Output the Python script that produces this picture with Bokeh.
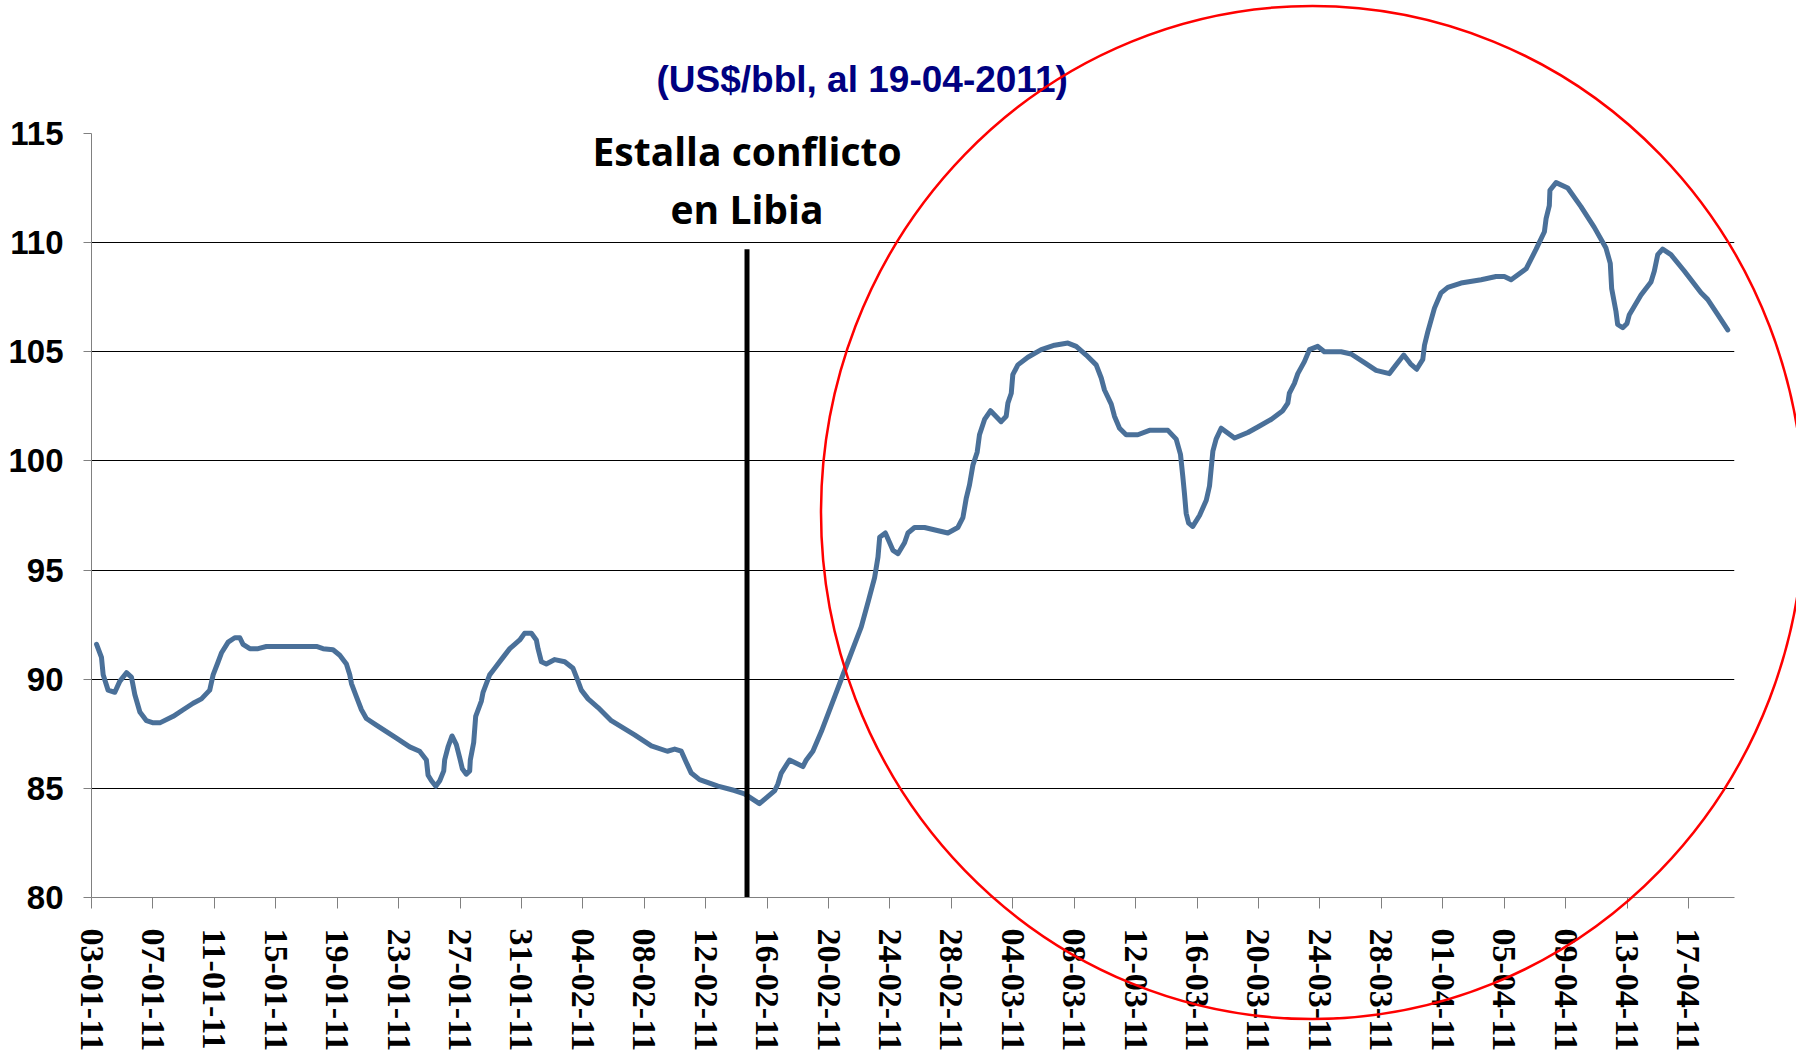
import math
from datetime import datetime, timedelta
from bokeh.plotting import figure
from bokeh.models import FixedTicker, DatetimeTickFormatter, Range1d, Label
from bokeh.embed import file_html
from bokeh.resources import INLINE

# ---------------- data ----------------
start_date = datetime(2011, 1, 3)
end_date = datetime(2011, 4, 20)

day_offset = [
    0.33, 0.65, 0.76, 1.08, 1.52, 1.84, 2.28, 2.60, 2.82, 3.15, 3.58, 4.02, 4.45, 5.32, 5.97,
    6.62, 7.16, 7.70, 7.92, 8.25, 8.46, 8.90, 9.33, 9.66, 9.87, 10.31, 10.85, 11.39, 12.70,
    14.65, 15.08, 15.73, 16.17, 16.60, 16.82, 16.93, 17.25, 17.58, 17.90, 18.55, 19.86, 20.72,
    21.37, 21.81, 21.92, 22.14, 22.42, 22.68, 22.94, 23.00, 23.22, 23.48, 23.76, 23.98, 24.15,
    24.41, 24.63, 24.67, 24.89, 25.02, 25.39, 25.50, 25.93, 26.15, 26.80, 27.24, 27.56, 27.89,
    28.20, 28.65, 28.97, 29.08, 29.30, 29.62, 30.17, 30.82, 31.36, 31.69, 31.90, 32.34, 32.99,
    33.85, 35.37, 36.46, 37.50, 37.98, 38.41, 38.73, 39.06, 39.60, 40.80, 41.88, 42.53, 43.50,
    44.50, 44.70, 44.92, 45.46, 46.33, 46.55, 46.98, 47.53, 48.40, 49.26, 50.13, 50.60, 51.00,
    51.22, 51.33, 51.70, 51.98, 52.20, 52.52, 52.95, 53.17, 53.60, 54.25, 55.77, 56.42, 56.75,
    56.97, 57.18, 57.40, 57.68, 57.83, 58.16, 58.55, 59.24, 59.57, 59.68, 59.90, 60.00, 60.33,
    60.98, 61.85, 62.72, 63.59, 64.13, 64.78, 65.43, 65.76, 65.97, 66.41, 66.62, 66.95, 67.38,
    68.14, 68.90, 70.10, 70.64, 70.92, 71.07, 71.18, 71.29, 71.45, 71.72, 72.16, 72.60, 72.81,
    73.03, 73.24, 73.57, 74.44, 75.31, 76.07, 76.82, 77.58, 77.91, 78.01, 78.34, 78.56, 78.99,
    79.32, 79.86, 80.29, 81.38, 82.03, 82.90, 83.66, 84.53, 84.85, 85.46, 85.90, 86.30, 86.70,
    86.81, 87.02, 87.46, 87.89, 88.33, 89.19, 90.50, 91.47, 92.01, 92.45, 93.43, 94.08, 94.62,
    94.73, 94.94, 94.98, 95.38, 96.14, 97.00, 97.87, 98.63, 98.91, 99.00, 99.28, 99.39, 99.72,
    100.00, 100.15, 100.91, 101.56, 101.78, 102.00, 102.32, 102.86, 103.73, 104.82, 105.25,
    105.91, 106.56,
]

price = [
    91.6, 91.0, 90.2, 89.5, 89.4, 89.9, 90.3, 90.1, 89.3, 88.5, 88.1, 88.0, 88.0, 88.3, 88.6,
    88.9, 89.1, 89.5, 90.2, 90.8, 91.2, 91.7, 91.9, 91.9, 91.6, 91.4, 91.4, 91.5, 91.5,
    91.5, 91.4, 91.35, 91.1, 90.7, 90.2, 89.8, 89.2, 88.6, 88.2, 87.9, 87.3, 86.9,
    86.7, 86.3, 85.6, 85.35, 85.1, 85.35, 85.8, 86.3, 86.9, 87.4, 87.0, 86.4, 85.9,
    85.65, 85.8, 86.3, 87.1, 88.3, 89.0, 89.4, 90.2, 90.4, 91.0, 91.4, 91.6, 91.8,
    92.1, 92.1, 91.8, 91.4, 90.8, 90.7, 90.9, 90.8, 90.5, 89.9, 89.5, 89.1, 88.7,
    88.1, 87.45, 86.95, 86.7, 86.8, 86.7, 86.2, 85.7, 85.4, 85.1, 84.9, 84.75, 84.3,
    84.9, 85.2, 85.7, 86.3, 86.0, 86.3, 86.7, 87.6, 89.2, 90.8, 92.4, 93.6, 94.65,
    95.6, 96.5, 96.7, 96.25, 95.9, 95.75, 96.25, 96.7, 96.95, 96.95, 96.7, 96.95, 97.4,
    98.3, 98.9, 99.8, 100.4, 101.2, 101.9, 102.3, 101.8, 102.05, 102.65, 103.1, 103.95, 104.4,
    104.75, 105.1, 105.3, 105.4, 105.25, 104.85, 104.4, 103.8, 103.25, 102.6, 102.05, 101.5, 101.2,
    101.2, 101.4, 101.4, 101.0, 100.3, 99.3, 98.5, 97.6, 97.15, 97.0, 97.5, 98.2, 98.85,
    100.45, 101.0, 101.5, 101.05, 101.3, 101.6, 101.9, 102.3, 102.65, 103.1, 103.55, 104.0, 104.55,
    105.1, 105.25, 105.0, 105.0, 104.9, 104.5, 104.15, 104.0, 104.3, 104.85, 104.45, 104.2, 104.65,
    105.3, 105.9, 107.0, 107.7, 107.95, 108.15, 108.3, 108.45, 108.45, 108.3, 108.8, 109.7, 110.5,
    111.1, 111.7, 112.4, 112.75, 112.5, 111.65, 110.7, 109.75, 109.05, 107.9, 106.85, 106.25, 106.1,
    106.3, 106.7, 107.6, 108.2, 108.7, 109.45, 109.7, 109.45, 108.7, 107.7, 107.4,
    106.7, 106.0,
]

tick_labels = [
    "03-01-11", "07-01-11", "11-01-11", "15-01-11", "19-01-11", "23-01-11", "27-01-11",
    "31-01-11", "04-02-11", "08-02-11", "12-02-11", "16-02-11", "20-02-11", "24-02-11",
    "28-02-11", "04-03-11", "08-03-11", "12-03-11", "16-03-11", "20-03-11", "24-03-11",
    "28-03-11", "01-04-11", "05-04-11", "09-04-11", "13-04-11", "17-04-11",
]
y_ticks = [80, 85, 90, 95, 100, 105, 110, 115]

event_day = 42.69          # outbreak of the Libyan conflict (days after 03-01-2011)
event_top = 109.7
title_text = "(US$/bbl, al 19-04-2011)"
note_lines = ["Estalla conflicto", "en Libia"]
note_baselines = [114.22, 111.55]

# ---------------- layout ----------------
W, H = 1796, 1054
BORDER_L, BORDER_T = 91, 133
FRAME_W, FRAME_H = 1643, 765

# red highlight ellipse on the canvas (pixels)
ell_cx, ell_cy, ell_w, ell_h = 1312, 512, 983, 1013

EPOCH = datetime(1970, 1, 1)
def to_ms(dt):
    return (dt - EPOCH).total_seconds() * 1000.0

x_dates = [start_date + timedelta(days=d) for d in day_offset]
tick_ms = [to_ms(datetime.strptime(t, "%d-%m-%y")) for t in tick_labels]
event_ms = to_ms(start_date + timedelta(days=event_day))

p = figure(
    width=W, height=H,
    x_axis_type="datetime",
    x_range=Range1d(start_date, end_date),
    y_range=Range1d(80, 115),
    output_backend="svg", toolbar_location=None,
    min_border_left=BORDER_L, min_border_right=W - BORDER_L - FRAME_W,
    min_border_top=BORDER_T, min_border_bottom=H - BORDER_T - FRAME_H,
)
p.outline_line_color = None
p.background_fill_color = "white"
p.border_fill_color = "white"

# title
p.title.text = title_text
p.title.align = "left"
p.title.offset = 565
p.title.text_font = "Liberation Sans"
p.title.text_font_style = "bold"
p.title.text_font_size = "37px"
p.title.text_color = "#000080"
p.title.standoff = 68

# grid
p.xgrid.visible = False
p.ygrid.grid_line_color = "black"
p.ygrid.grid_line_width = 1
p.ygrid.ticker = FixedTicker(ticks=y_ticks)

# y axis
p.yaxis.ticker = FixedTicker(ticks=y_ticks)
p.yaxis.axis_line_color = "#808080"
p.yaxis.major_tick_line_color = "#808080"
p.yaxis.major_tick_out = 8
p.yaxis.major_tick_in = 0
p.yaxis.minor_tick_line_color = None
p.yaxis.major_label_text_font = "Liberation Sans"
p.yaxis.major_label_text_font_style = "bold"
p.yaxis.major_label_text_font_size = "33px"
p.yaxis.major_label_text_color = "black"
p.yaxis.major_label_standoff = 20

# x axis
p.xaxis.ticker = FixedTicker(ticks=tick_ms)
fmt = "%d-%m-%y"
p.xaxis.formatter = DatetimeTickFormatter(
    microseconds=fmt, milliseconds=fmt, seconds=fmt, minsec=fmt, minutes=fmt,
    hourmin=fmt, hours=fmt, days=fmt, months=fmt, years=fmt)
p.xaxis.axis_line_color = "#808080"
p.xaxis.major_tick_line_color = "#808080"
p.xaxis.major_tick_out = 11
p.xaxis.major_tick_in = 0
p.xaxis.minor_tick_line_color = None
p.xaxis.major_label_orientation = -math.pi / 2
p.xaxis.major_label_text_font = "Liberation Sans Narrow"
p.xaxis.major_label_text_font_style = "bold"
p.xaxis.major_label_text_font_size = "34px"
p.xaxis.major_label_text_color = "black"
p.xaxis.major_label_standoff = 20

# price line
p.line(x_dates, price, line_width=5, line_color="#4a7099", line_join="round", line_cap="round")

# event marker line
p.line([event_ms, event_ms], [80, event_top], line_width=5, line_color="black")

# annotation text
for txt, yb in zip(note_lines, note_baselines):
    p.add_layout(Label(x=event_ms, y=yb, text=txt, text_align="center",
                       text_baseline="alphabetic", text_font="Open Sans",
                       text_font_style="bold", text_font_size="39px", text_color="black"))

# transparent overlay figure spanning the whole canvas, for the red ellipse
ov = figure(width=W, height=H, x_range=Range1d(0, W), y_range=Range1d(H, 0),
            output_backend="svg", toolbar_location=None,
            x_axis_location=None, y_axis_location=None,
            min_border=0, min_border_left=0, min_border_right=0,
            min_border_top=0, min_border_bottom=0)
ov.outline_line_color = None
ov.background_fill_color = None
ov.border_fill_color = None
ov.grid.visible = False
ov.ellipse(x=[ell_cx], y=[ell_cy], width=[ell_w], height=[ell_h],
           fill_color=None, line_color="#ff0000", line_width=2.5)
ov.styles = {"margin-top": f"-{H}px"}

open("out.html", "w").write(file_html([p, ov], INLINE))
